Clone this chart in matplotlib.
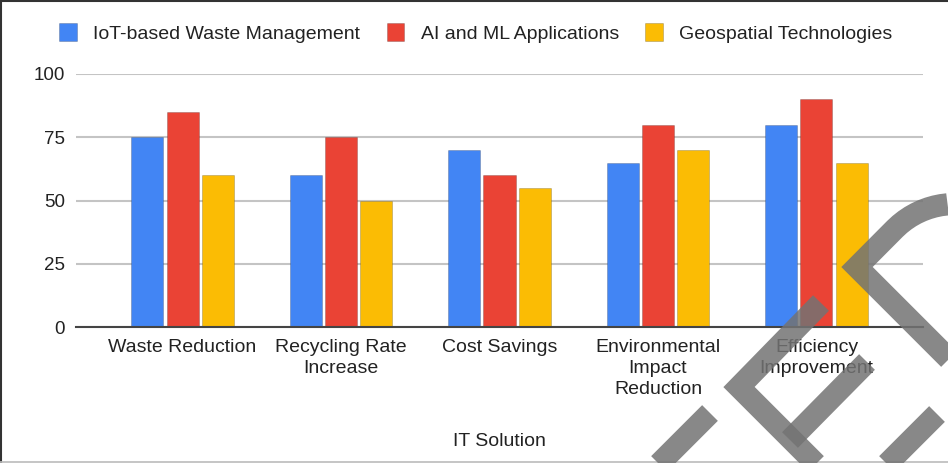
import numpy as np
import matplotlib
matplotlib.use("Agg")
import matplotlib.pyplot as plt

# ── data ──────────────────────────────────────────────────────────────────────
categories = ["Waste Reduction", "Recycling Rate\nIncrease", "Cost Savings",
              "Environmental\nImpact\nReduction", "Efficiency\nImprovement"]
series_names = ["IoT-based Waste Management", "AI and ML Applications",
                "Geospatial Technologies"]
iot_vals = [75, 60, 70, 65, 80]
ai_vals = [85, 75, 60, 80, 90]
geo_vals = [60, 50, 55, 70, 65]
y_ticks = [0, 25, 50, 75, 100]

colors = ["#4285F4", "#EA4335", "#FBBC04"]
TEXT = "#222222"
FONT = "Liberation Sans"
FS = 14

W, H = 948, 463
fig = plt.figure(figsize=(W / 100, H / 100), dpi=100)
fig.patch.set_facecolor("white")

ax = fig.add_axes([76 / W, 1 - 327 / H, (923 - 76) / W, (327 - 74) / H])
x = np.arange(len(categories))
bw, step = 0.202, 0.221
handles = []
for i, (vals, col) in enumerate(zip([iot_vals, ai_vals, geo_vals], colors)):
    b = ax.bar(x + (i - 1) * step, vals, width=bw, color=col,
               edgecolor=(0, 0, 0, 0.18), linewidth=0.7, zorder=3,
               label=series_names[i])
    handles.append(b)

ax.set_xlim(-0.672, 4.672)
ax.set_ylim(0, 100)
ax.set_yticks(y_ticks)
ax.set_yticklabels([str(v) for v in y_ticks], fontsize=FS - 0.5, family=FONT, color=TEXT)
ax.set_xticks(x)
ax.set_xticklabels(categories, fontsize=FS, family=FONT, color=TEXT,
                   linespacing=1.3)
ax.tick_params(axis="both", length=0)
ax.tick_params(axis="x", pad=9)
ax.tick_params(axis="y", pad=8)
ax.yaxis.grid(True, color="#c4c4c4", linewidth=1.5, zorder=0)
for s in ["top", "right", "left"]:
    ax.spines[s].set_visible(False)
ax.spines["bottom"].set_color("#444444")
ax.spines["bottom"].set_linewidth(1.5)
ax.spines["bottom"].set_zorder(4)

fig.text((76 + 923) / 2 / W, 1 - 441 / H, "IT Solution", ha="center",
         va="center", fontsize=FS, family=FONT, color=TEXT)

leg = fig.legend(handles=handles, loc="center", bbox_to_anchor=(0.502, 1 - 33 / H),
                 ncol=3, frameon=False, handlelength=0.9, handleheight=1.0,
                 handletextpad=0.85, columnspacing=1.35,
                 prop={"family": FONT, "size": FS})
for t in leg.get_texts():
    t.set_color(TEXT)

# ── overlay: frame and watermark strokes (pixel coords) ──────────────────────
ov = fig.add_axes([0, 0, 1, 1], zorder=10)
ov.set_xlim(0, W)
ov.set_ylim(H, 0)
ov.axis("off")
ov.plot([1, 1], [0, H], color="#333333", lw=1.5)
ov.plot([0, W], [1, 1], color="#333333", lw=1.5)
ov.plot([0, W], [461.5, 461.5], color="#bbbbbb", lw=1.2)

wm = dict(color="#737373", alpha=0.85, lw=16, solid_capstyle="butt",
          solid_joinstyle="miter")
# small "<"
ov.plot([821, 739, 825], [303, 387, 473], **wm)
# short stroke lower left
ov.plot([710, 650], [413, 473], **wm)
# bars of the "E"
ov.plot([867, 790], [362, 440], **wm)
ov.plot([937, 878], [414, 473], **wm)
# big curved "<"
ang = np.linspace(np.radians(135), np.radians(95), 10)
R, cx, cy = 85, 955, 289
arc_x = cx + R * np.cos(ang)
arc_y = cy - R * np.sin(ang)
ov.plot(np.r_[960, 857, arc_x], np.r_[370, 267, arc_y], **wm)

fig.savefig("out.png", dpi=100, facecolor="white")
